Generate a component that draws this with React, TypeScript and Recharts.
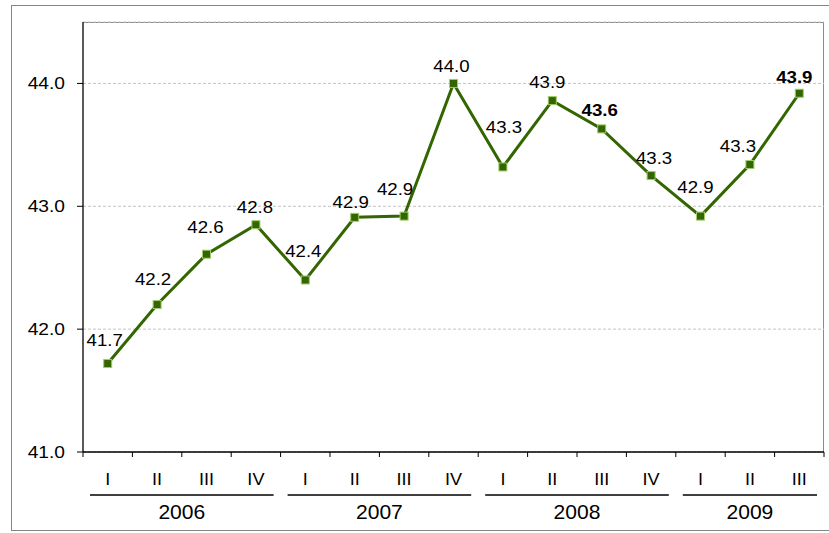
import React from "react";
import { LineChart, Line, XAxis, YAxis, CartesianGrid } from "recharts";

// ---- data ----
const quarters = ["I", "II", "III", "IV", "I", "II", "III", "IV", "I", "II", "III", "IV", "I", "II", "III"];
const values = [41.72, 42.2, 42.61, 42.85, 42.4, 42.91, 42.92, 44.0, 43.32, 43.86, 43.63, 43.25, 42.92, 43.34, 43.92];
const valueLabels = ["41.7", "42.2", "42.6", "42.8", "42.4", "42.9", "42.9", "44.0", "43.3", "43.9", "43.6", "43.3", "42.9", "43.3", "43.9"];
const boldLabels = [10, 14];
const years = ["2006", "2007", "2008", "2009"];
const quartersPerYear = [4, 4, 4, 3];
const yTicks = [41, 42, 43, 44];

// label nudges relative to each point (dx, dy), as in the original
const labelNudges: [number, number][] = [
  [-3, -24], [-4, -26], [-1, -27], [-1, -18], [-2, -29], [-4, -15], [-9, -27], [-2, -17],
  [1, -40], [-5, -19], [-2, -19], [3, -18], [-5, -29], [-12, -19], [-5, -16],
];

const data = quarters.map((q, i) => ({ q, v: values[i], label: valueLabels[i] }));

// ---- layout ----
const W = 829;
const H = 533;
const M = { top: 22, right: 5, left: 0, bottom: 0 };
const Y_AXIS_W = 83;
const X_AXIS_H = 81;
const PLOT_LEFT = M.left + Y_AXIS_W;
const PLOT_RIGHT = W - M.right;
const PLOT_TOP = M.top;
const PLOT_BOTTOM = H - M.bottom - X_AXIS_H;
const BAND = (PLOT_RIGHT - PLOT_LEFT) / quarters.length;

const FONT = "'Liberation Sans', Arial, sans-serif";
const GREEN = "#336600";
const SX = 1.13;

const groupStarts: number[] = [];
{
  let acc = 0;
  quartersPerYear.forEach((n) => {
    groupStarts.push(acc);
    acc += n;
  });
}

function XTick(props: any) {
  const { x, index } = props;
  const left = x - BAND / 2;
  const items: React.ReactNode[] = [];
  items.push(<line key="t" x1={left} x2={left} y1={PLOT_BOTTOM} y2={PLOT_BOTTOM + 5} stroke="#000" strokeWidth={1} />);
  if (index === quarters.length - 1) {
    items.push(<line key="te" x1={x + BAND / 2} x2={x + BAND / 2} y1={PLOT_BOTTOM} y2={PLOT_BOTTOM + 5} stroke="#000" strokeWidth={1} />);
  }
  items.push(
    <text key="r" transform={`translate(${x},${PLOT_BOTTOM + 33}) scale(${SX},1)`} textAnchor="middle" fontSize={16} fontFamily={FONT} fill="#000">
      {quarters[index]}
    </text>
  );
  const g = groupStarts.indexOf(index);
  if (g >= 0) {
    const n = quartersPerYear[g];
    const x1 = left + 7;
    const x2 = left + n * BAND - 7;
    items.push(<line key="g" x1={x1} x2={x2} y1={PLOT_BOTTOM + 43} y2={PLOT_BOTTOM + 43} stroke="#000" strokeWidth={1.3} />);
    items.push(
      <text key="y" transform={`translate(${left + (n * BAND) / 2},${PLOT_BOTTOM + 67}) scale(1.08,1)`} textAnchor="middle" fontSize={19.5} fontFamily={FONT} fill="#000">
        {years[g]}
      </text>
    );
  }
  return <g>{items}</g>;
}

function YTick(props: any) {
  const { y, payload } = props;
  return (
    <text transform={`translate(${PLOT_LEFT - 18},${y + 6}) scale(${SX},1)`} textAnchor="end" fontSize={17} fontFamily={FONT} fill="#000">
      {Number(payload.value).toFixed(1)}
    </text>
  );
}

function Square(props: any) {
  const { cx, cy, index } = props;
  if (cx == null || cy == null) return null;
  return <rect key={`d${index}`} x={cx - 4} y={cy - 4} width={8} height={8} fill={GREEN} stroke="#9fcc66" strokeWidth={1} />;
}

function ValueLabel(props: any) {
  const { x, y, index } = props;
  if (x == null || y == null) return null;
  const [dx, dy] = labelNudges[index] || [0, -22];
  const bold = boldLabels.includes(index);
  return (
    <text
      key={`l${index}`}
      transform={`translate(${x + dx},${y + dy + 6}) scale(${SX},1)`}
      textAnchor="middle"
      fontSize={16.5}
      fontWeight={bold ? "bold" : "normal"}
      fontFamily={FONT}
      fill="#000"
    >
      {valueLabels[index]}
    </text>
  );
}

export default function App() {
  return (
    <div style={{ position: "relative", width: W, height: H, overflow: "hidden", background: "#fff" }}>
      <style>{"body{margin:0;}"}</style>
      <div
        style={{
          position: "absolute",
          left: 11,
          top: 5,
          width: 840,
          height: 526,
          border: "1.5px solid #858585",
          boxSizing: "border-box",
        }}
      />
      <div
        style={{
          position: "absolute",
          left: PLOT_LEFT,
          top: PLOT_TOP,
          width: PLOT_RIGHT - PLOT_LEFT,
          height: PLOT_BOTTOM - PLOT_TOP,
          borderTop: "1px solid #8a8a8a",
          borderRight: "1px solid #8a8a8a",
          boxSizing: "border-box",
        }}
      />
      <div style={{ position: "absolute", left: 0, top: 0 }}>
        <LineChart width={W} height={H} data={data} margin={M}>
          <CartesianGrid vertical={false} horizontal stroke="#c4c4c4" strokeDasharray="3 2" />
          <XAxis
            dataKey="q"
            height={X_AXIS_H}
            interval={0}
            padding={{ left: BAND / 2, right: BAND / 2 }}
            tickLine={false}
            axisLine={{ stroke: "#000", strokeWidth: 1.3 }}
            tick={<XTick />}
          />
          <YAxis
            width={Y_AXIS_W}
            domain={[41, 44.5]}
            ticks={yTicks}
            allowDataOverflow
            tickSize={6}
            tickLine={{ stroke: "#000" }}
            axisLine={{ stroke: "#000", strokeWidth: 1.3 }}
            tick={<YTick />}
          />
          <Line
            type="linear"
            dataKey="v"
            stroke={GREEN}
            strokeWidth={3}
            dot={<Square />}
            activeDot={false}
            label={<ValueLabel />}
            isAnimationActive={false}
          />
        </LineChart>
      </div>
    </div>
  );
}
